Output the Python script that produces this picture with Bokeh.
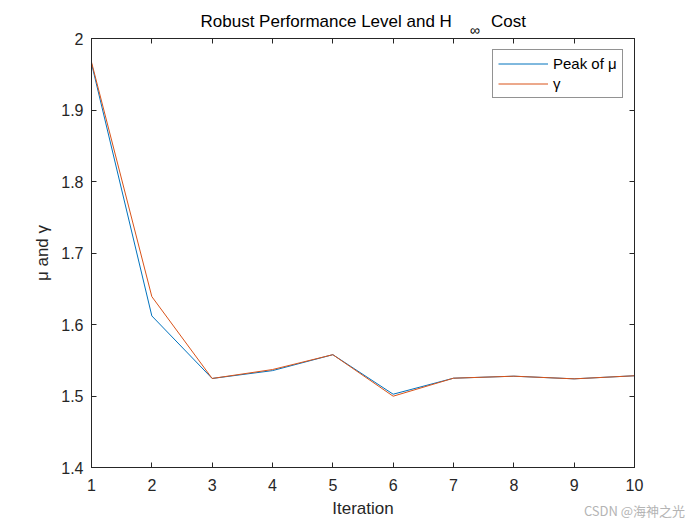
from bokeh.plotting import figure
from bokeh.models import (LinearAxis, FixedTicker, CustomJSTickFormatter, Legend, LegendItem, Range1d)
from bokeh.embed import file_html
from bokeh.resources import INLINE

iterations = [1, 2, 3, 4, 5, 6, 7, 8, 9, 10]
peak_mu = [1.965, 1.612, 1.5245, 1.5355, 1.5578, 1.5025, 1.5249, 1.5277, 1.5240, 1.5283]
gamma = [1.967, 1.639, 1.5245, 1.5370, 1.5578, 1.4997, 1.5249, 1.5277, 1.5240, 1.5283]
x_ticks = [1, 2, 3, 4, 5, 6, 7, 8, 9, 10]
y_ticks = [1.4, 1.5, 1.6, 1.7, 1.8, 1.9, 2.0]

title_main = "Robust Performance Level and H"
title_sub = "\u221e"
title_end = "Cost"
x_label = "Iteration"
y_label = "\u03bc and \u03b3"
legend_labels = ["Peak of \u03bc", "\u03b3"]
watermark = "CSDN @海神之光"

FONT = "Liberation Sans"
AX = "#262626"

p = figure(width=700, height=525, frame_width=543, frame_height=429,
           output_backend="svg", toolbar_location=None,
           x_range=Range1d(1, 10), y_range=Range1d(1.4, 2.0),
           min_border_left=91, min_border_right=66, min_border_top=38, min_border_bottom=58)
p.title.visible = False
p.xgrid.visible = False
p.ygrid.visible = False
p.background_fill_color = "white"
p.border_fill_color = "white"
p.outline_line_color = AX

fmt = CustomJSTickFormatter(code="return (Math.round(tick*10)/10).toString();")
blank = CustomJSTickFormatter(code="return '';")

def style(ax):
    ax.axis_line_color = AX
    ax.major_tick_line_color = AX
    ax.minor_tick_line_color = None
    ax.major_tick_in = 5
    ax.major_tick_out = 0
    ax.major_label_text_font = FONT
    ax.major_label_text_font_size = "16px"
    ax.major_label_text_color = AX
    ax.axis_label_text_font = FONT
    ax.axis_label_text_font_size = "17px"
    ax.axis_label_text_font_style = "normal"
    ax.axis_label_text_color = AX

p.xaxis.ticker = FixedTicker(ticks=x_ticks)
p.yaxis.ticker = FixedTicker(ticks=y_ticks)
p.xaxis.formatter = fmt
p.yaxis.formatter = fmt
p.xaxis.axis_label = x_label
p.yaxis.axis_label = y_label
style(p.xaxis[0]); style(p.yaxis[0])
p.xaxis.major_label_standoff = 11
p.yaxis.major_label_standoff = 8
p.xaxis.axis_label_standoff = 5
p.yaxis.axis_label_standoff = 6

# right axis: ticks only
right = LinearAxis(ticker=FixedTicker(ticks=y_ticks), formatter=blank)
style(right)
right.major_label_standoff = 0
p.add_layout(right, "right")

# top axis: tick marks as minor ticks, subscript of the title as its label
top = LinearAxis(ticker=FixedTicker(ticks=[7.35], minor_ticks=x_ticks),
                 formatter=CustomJSTickFormatter(args=dict(labels=[title_sub]), code="return labels[index];"))
style(top)
top.major_tick_line_color = None
top.minor_tick_line_color = AX
top.minor_tick_in = 5
top.minor_tick_out = 0
top.major_label_text_font_size = "14px"
top.major_label_text_color = "black"
top.major_label_standoff = 1
p.add_layout(top, "above")

# title text row
title_axis = LinearAxis(ticker=FixedTicker(ticks=[4.89, 7.91], minor_ticks=[]),
                        formatter=CustomJSTickFormatter(args=dict(labels=[title_main, title_end]),
                                                        code="return labels[index];"))
style(title_axis)
title_axis.axis_line_color = None
title_axis.major_tick_line_color = None
title_axis.major_label_text_font_size = "17px"
title_axis.major_label_text_color = "black"
title_axis.major_label_standoff = -12
p.add_layout(title_axis, "above")

# watermark row
wm_axis = LinearAxis(ticker=FixedTicker(ticks=[10], minor_ticks=[]),
                     formatter=CustomJSTickFormatter(args=dict(labels=[watermark]), code="return labels[index];"))
style(wm_axis)
wm_axis.axis_line_color = None
wm_axis.major_tick_line_color = None
wm_axis.major_label_text_font = "Noto Sans CJK SC"
wm_axis.major_label_text_font_size = "13px"
wm_axis.major_label_text_color = "#b4b4b4"
wm_axis.major_label_standoff = -20
p.add_layout(wm_axis, "below")

r1 = p.line(iterations, peak_mu, line_color="#0072BD", line_width=1)
r2 = p.line(iterations, gamma, line_color="#D95319", line_width=1)

leg = Legend(items=[LegendItem(label=legend_labels[0], renderers=[r1]),
                    LegendItem(label=legend_labels[1], renderers=[r2])],
             location=(401, 369))
leg.margin = 0
leg.padding = 5
leg.spacing = 3
leg.glyph_width = 50
leg.glyph_height = 17
leg.label_width = 64
leg.label_height = 17
leg.label_text_font = FONT
leg.label_text_font_size = "15px"
leg.label_text_color = "black"
leg.label_standoff = 5
leg.border_line_color = AX
leg.border_line_width = 1
leg.background_fill_alpha = 1
p.add_layout(leg)

open("out.html", "w").write(file_html(p, INLINE))
